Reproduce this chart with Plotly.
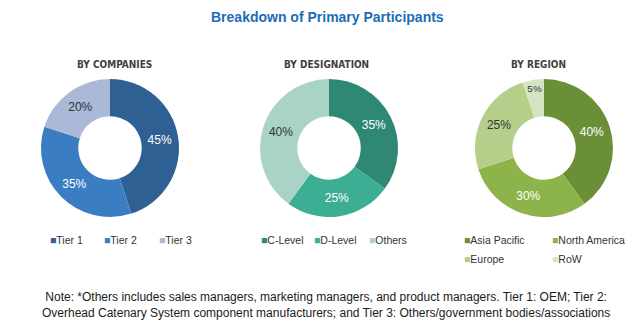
import plotly.graph_objects as go

# ---- data ----
companies_labels = ["Tier 1", "Tier 2", "Tier 3"]
companies_values = [45, 35, 20]
designation_labels = ["C-Level", "D-Level", "Others"]
designation_values = [35, 25, 40]
region_labels = ["Asia Pacific", "North America", "Europe", "RoW"]
region_values = [40, 30, 25, 5]

chart_title = "Breakdown of Primary Participants"
subtitles = ["BY COMPANIES", "BY DESIGNATION", "BY REGION"]
note_text = ("Note: *Others includes sales managers, marketing managers, and product managers. Tier 1: OEM; Tier 2:<br>"
             "Overhead Catenary System component manufacturers; and Tier 3: Others/government bodies/associations")

# ---- styles ----
companies_colors = ["#2E6094", "#3B7DC2", "#A9B9D7"]
designation_colors = ["#2E8873", "#3BAE93", "#A9D3C7"]
region_colors = ["#6A8F37", "#8CB44A", "#B5CF8A", "#D6E3C3"]
companies_txt = ["white", "white", "#333333"]
designation_txt = ["white", "white", "#333333"]
region_txt = ["white", "white", "#333333", "#333333"]

W, H = 643, 330
COND = "DejaVu Sans Condensed, Liberation Sans Narrow, Arial, sans-serif"
SANS = "Liberation Sans, Arial, sans-serif"

centers = [110, 329, 544]
cy = 148
R = 69

def domain(cx):
    return dict(x=[(cx - R) / W, (cx + R) / W],
                y=[(H - cy - R) / H, (H - cy + R) / H])

fig = go.Figure()
groups = [
    (companies_labels, companies_values, companies_colors, companies_txt),
    (designation_labels, designation_values, designation_colors, designation_txt),
    (region_labels, region_values, region_colors, region_txt),
]
for (labels, values, colors, txt), cx in zip(groups, centers):
    fig.add_trace(go.Pie(
        labels=labels, values=values, hole=0.46, sort=False,
        direction="clockwise", rotation=0, domain=domain(cx),
        marker=dict(colors=colors, line=dict(width=0)),
        texttemplate="%{value}%", textposition="inside",
        insidetextorientation="horizontal",
        textfont=dict(family=SANS, size=12, color=txt),
        showlegend=False, hoverinfo="label+value",
    ))

ann = []
ann.append(dict(text=f"<b>{chart_title}</b>", x=327 / W, y=1 - 17 / H,
                font=dict(family=SANS, size=14, color="#1C6DB6")))
sub_x = [114, 326, 538]
for s, sx in zip(subtitles, sub_x):
    ann.append(dict(text=f"<b>{s}</b>", x=sx / W, y=1 - 64 / H,
                    font=dict(family=COND, size=10, color="#404040")))
ann.append(dict(text=note_text, x=326 / W, y=1 - 305 / H,
                font=dict(family=SANS, size=12, color="#1A1A1A")))
for a in ann:
    a.update(xref="paper", yref="paper", showarrow=False,
             xanchor="center", yanchor="middle")

# legends (built from the data arrays)
legend_pos = [
    (companies_labels, companies_colors, [(48, 240), (102, 240), (157, 240)]),
    (designation_labels, designation_colors, [(259, 240), (312, 240), (367, 240)]),
    (region_labels, region_colors, [(462, 240), (550, 240), (462, 259), (550, 259)]),
]
for labels, colors, pos in legend_pos:
    for lab, col, (lx, ly) in zip(labels, colors, pos):
        ann.append(dict(
            text=f"<span style='color:{col}'>■</span>{lab}",
            x=lx / W, y=1 - ly / H, xref="paper", yref="paper",
            showarrow=False, xanchor="left", yanchor="middle",
            font=dict(family=SANS, size=10.5, color="#333333")))

fig.update_layout(
    width=W, height=H, margin=dict(l=0, r=0, t=0, b=0),
    paper_bgcolor="white", plot_bgcolor="white",
    annotations=ann,
)
fig.write_html("out.html")
